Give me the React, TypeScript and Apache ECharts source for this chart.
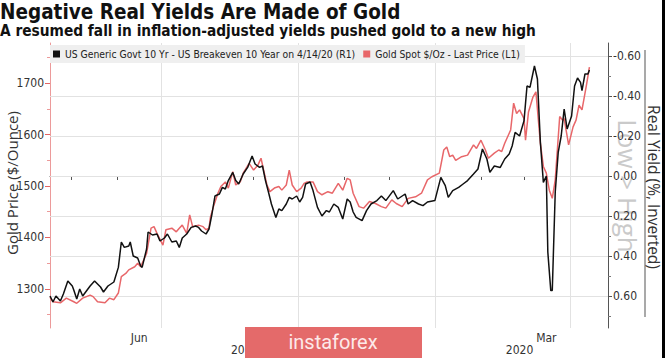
import React, { useEffect, useRef } from "react";
import * as echarts from "echarts";

const titleText = "Negative Real Yields Are Made of Gold";
const subtitleText = "A resumed fall in inflation-adjusted yields pushed gold to a new high";
const yieldName = "US Generic Govt 10 Yr - US Breakeven 10 Year on 4/14/20 (R1)";
const goldName = "Gold Spot $/Oz - Last Price (L1)";

const yieldDates = [
  "2019-04-17","2019-04-19","2019-04-21","2019-04-24","2019-04-26","2019-04-29","2019-05-02","2019-05-03","2019-05-05","2019-05-07",
  "2019-05-09","2019-05-12","2019-05-14","2019-05-17","2019-05-21","2019-05-23","2019-05-26","2019-05-30","2019-06-02","2019-06-04",
  "2019-06-06","2019-06-09","2019-06-10","2019-06-12","2019-06-15","2019-06-17","2019-06-18","2019-06-21","2019-06-22","2019-06-25",
  "2019-06-28","2019-06-30","2019-07-03","2019-07-05","2019-07-08","2019-07-11","2019-07-13","2019-07-15","2019-07-18","2019-07-21",
  "2019-07-24","2019-07-26","2019-07-28","2019-07-31","2019-08-02","2019-08-04","2019-08-06","2019-08-09","2019-08-11","2019-08-13",
  "2019-08-15","2019-08-18","2019-08-20","2019-08-22","2019-08-25","2019-08-28","2019-08-31","2019-09-02","2019-09-05","2019-09-07",
  "2019-09-09","2019-09-11","2019-09-13","2019-09-16","2019-09-18","2019-09-20","2019-09-23","2019-09-25","2019-09-27","2019-09-30",
  "2019-10-02","2019-10-04","2019-10-06","2019-10-09","2019-10-11","2019-10-14","2019-10-17","2019-10-20","2019-10-22","2019-10-25",
  "2019-10-28","2019-10-31","2019-11-03","2019-11-05","2019-11-07","2019-11-09","2019-11-13","2019-11-16","2019-11-19","2019-11-23",
  "2019-11-26","2019-11-29","2019-12-04","2019-12-07","2019-12-12","2019-12-14","2019-12-17","2019-12-21","2019-12-24","2019-12-27",
  "2020-01-01","2020-01-05","2020-01-08","2020-01-10","2020-01-13","2020-01-17","2020-01-20","2020-01-23","2020-01-27","2020-01-30",
  "2020-02-02","2020-02-05","2020-02-07","2020-02-10","2020-02-14","2020-02-17","2020-02-20","2020-02-22","2020-02-24","2020-02-27",
  "2020-03-01","2020-03-03","2020-03-05","2020-03-08","2020-03-10","2020-03-12","2020-03-14","2020-03-16","2020-03-17","2020-03-19",
  "2020-03-20","2020-03-22","2020-03-24","2020-03-26","2020-03-28","2020-03-30","2020-04-02","2020-04-04","2020-04-06","2020-04-08",
  "2020-04-09","2020-04-11","2020-04-13","2020-04-14"
];
const yieldValues = [
  0.60,0.63,0.60,0.625,0.59,0.525,0.55,0.57,0.615,0.565,
  0.60,0.57,0.55,0.525,0.555,0.58,0.55,0.53,0.457,0.33,
  0.357,0.35,0.33,0.40,0.41,0.45,0.457,0.365,0.28,0.295,
  0.29,0.325,0.31,0.29,0.33,0.325,0.357,0.31,0.29,0.257,
  0.25,0.257,0.275,0.29,0.265,0.19,0.10,0.09,0.057,0.065,
  0.023,-0.018,0.023,0.04,-0.01,-0.043,-0.10,-0.06,-0.043,-0.05,
  0.023,0.08,0.14,0.207,0.165,0.173,0.14,0.107,0.115,0.10,
  0.13,0.107,0.04,0.03,0.073,0.157,0.20,0.173,0.18,0.14,
  0.157,0.215,0.115,0.13,0.18,0.207,0.223,0.173,0.14,0.123,
  0.10,0.123,0.073,0.115,0.09,0.14,0.123,0.14,0.148,0.13,
  0.123,0.007,0.048,0.107,0.073,0.057,0.04,0.023,-0.01,-0.035,
  -0.135,-0.085,-0.018,-0.05,-0.043,-0.085,-0.11,-0.15,-0.218,-0.20,
  -0.277,-0.45,-0.443,-0.55,-0.485,-0.168,0.032,0.0,0.38,0.573,
  0.573,0.08,-0.118,-0.20,-0.335,-0.235,-0.30,-0.45,-0.49,-0.468,
  -0.427,-0.51,-0.51,-0.53
];

const goldDates = [
  "2019-04-17","2019-04-19","2019-04-24","2019-04-28","2019-05-03","2019-05-05","2019-05-09","2019-05-14","2019-05-16","2019-05-19",
  "2019-05-24","2019-05-27","2019-05-30","2019-06-02","2019-06-04","2019-06-07","2019-06-09","2019-06-13","2019-06-15","2019-06-17",
  "2019-06-21","2019-06-24","2019-06-26","2019-06-28","2019-07-02","2019-07-04","2019-07-08","2019-07-11","2019-07-13","2019-07-15",
  "2019-07-18","2019-07-20","2019-07-22","2019-07-26","2019-07-29","2019-07-31","2019-08-02","2019-08-03","2019-08-05","2019-08-08",
  "2019-08-10","2019-08-13","2019-08-15","2019-08-18","2019-08-20","2019-08-23","2019-08-25","2019-08-29","2019-09-01","2019-09-04",
  "2019-09-06","2019-09-08","2019-09-10","2019-09-12","2019-09-15","2019-09-18","2019-09-20","2019-09-23","2019-09-25","2019-09-27",
  "2019-09-30","2019-10-03","2019-10-05","2019-10-07","2019-10-11","2019-10-14","2019-10-17","2019-10-21","2019-10-24","2019-10-28",
  "2019-10-31","2019-11-03","2019-11-05","2019-11-07","2019-11-11","2019-11-14","2019-11-18","2019-11-22","2019-11-26","2019-11-29",
  "2019-12-03","2019-12-06","2019-12-10","2019-12-14","2019-12-19","2019-12-23","2019-12-27","2019-12-30","2020-01-04","2020-01-07",
  "2020-01-09","2020-01-11","2020-01-13","2020-01-15","2020-01-19","2020-01-23","2020-01-27","2020-01-29","2020-02-01","2020-02-04",
  "2020-02-06","2020-02-10","2020-02-13","2020-02-15","2020-02-17","2020-02-21","2020-02-23","2020-02-25","2020-02-27","2020-03-01",
  "2020-03-02","2020-03-04","2020-03-07","2020-03-09","2020-03-12","2020-03-14","2020-03-16","2020-03-18","2020-03-20","2020-03-22",
  "2020-03-25","2020-03-27","2020-03-28","2020-03-31","2020-04-03","2020-04-05","2020-04-07","2020-04-09","2020-04-12","2020-04-14"
];
const goldValues = [
  1284,1275,1273,1282,1275,1272,1282,1288,1285,1275,
  1273,1282,1279,1292,1324,1330,1337,1343,1350,1343,
  1369,1418,1421,1408,1385,1415,1418,1411,1418,1424,
  1408,1444,1421,1424,1421,1415,1418,1440,1460,1486,
  1499,1508,1496,1528,1502,1508,1525,1544,1531,1541,
  1554,1528,1502,1489,1496,1499,1492,1502,1531,1502,
  1489,1496,1505,1508,1508,1489,1483,1489,1486,1505,
  1492,1515,1512,1486,1460,1457,1470,1466,1460,1457,
  1473,1466,1460,1476,1479,1486,1512,1518,1525,1570,
  1576,1557,1560,1550,1557,1560,1580,1573,1589,1570,
  1554,1564,1570,1567,1583,1609,1661,1641,1648,1631,
  1589,1644,1673,1683,1583,1538,1525,1492,1476,1512,
  1635,1628,1631,1580,1615,1628,1657,1648,1696,1731
];

const monthTickDates = [
  "2019-05-01","2019-06-01","2019-07-01","2019-08-01","2019-09-01","2019-10-01","2019-11-01","2019-12-01",
  "2020-01-01","2020-02-01","2020-03-01","2020-04-01"
];
const monthLabelDates = ["2019-06-16", "2020-03-16"];
const yearLabelDates = ["2019-08-26", "2020-02-27"];
const yearDividerDates = ["2020-01-01"];
const quarterLineDates = ["2019-07-01", "2019-10-01", "2020-01-01", "2020-04-01"];
const axisStartDate = "2019-04-17";
const axisEndDate = "2020-04-26";

const goldTicks = [1300, 1400, 1500, 1600, 1700];
const goldMinorTicks = [1250, 1350, 1450, 1550, 1650, 1750];
const yieldTicks = [-0.6, -0.4, -0.2, 0, 0.2, 0.4, 0.6];
const yieldMinorTicks = [-0.5, -0.3, -0.1, 0.1, 0.3, 0.5, 0.7];

const MONTHS = ["Jan","Feb","Mar","Apr","May","Jun","Jul","Aug","Sep","Oct","Nov","Dec"];

const toTs = (s: string) => {
  const [y, m, d] = s.split("-").map(Number);
  return new Date(y, m - 1, d).getTime();
};

export default function App() {
  const ref = useRef<HTMLDivElement>(null);
  useEffect(() => {
    document.body.style.margin = "0";
    const chart = echarts.init(ref.current!, null, { renderer: "svg" });
    const cond = '"DejaVu Sans Condensed", "DejaVu Sans", sans-serif';
    const xMin = toTs(axisStartDate);
    const xMax = toTs(axisEndDate) + 12 * 3600 * 1000;
    const labelStyle = { color: "#333", fontSize: 12, fontFamily: cond };

    chart.setOption({
      animation: false,
      backgroundColor: "#fff",
      grid: { left: 50, right: 57, top: 43, bottom: 30, containLabel: false },
      legend: {
        data: [yieldName, goldName],
        left: 50,
        top: 45,
        icon: "rect",
        itemWidth: 7,
        itemHeight: 7,
        itemGap: 8,
        padding: [4, 5, 4, 3],
        backgroundColor: "#efefef",
        selectedMode: false,
        textStyle: { fontSize: 10.3, color: "#222", fontFamily: cond },
      },
      xAxis: [
        {
          type: "value",
          min: xMin,
          max: xMax,
          position: "bottom",
          axisLine: { lineStyle: { color: "#555", width: 1 } },
          axisTick: { customValues: monthTickDates.map(toTs), length: 4, lineStyle: { color: "#555" } },
          axisLabel: {
            customValues: monthLabelDates.map(toTs),
            formatter: (v: number) => MONTHS[new Date(v).getMonth()],
            margin: 4,
            ...labelStyle,
          },
          splitLine: { show: false },
        },
        {
          type: "value",
          min: xMin,
          max: xMax,
          position: "bottom",
          axisLine: { show: false },
          axisTick: { customValues: yearDividerDates.map(toTs), length: 30, lineStyle: { color: "#aaa" } },
          axisLabel: {
            customValues: yearLabelDates.map(toTs),
            formatter: (v: number) => String(new Date(v).getFullYear()),
            margin: 16,
            ...labelStyle,
          },
          splitLine: { show: false },
        },
      ],
      yAxis: [
        {
          type: "value",
          position: "left",
          min: 1224,
          max: 1778,
          axisLine: { show: true, lineStyle: { color: "#ec9a9a" } },
          axisTick: { show: true, customValues: goldTicks, length: 5, lineStyle: { color: "#e26565" } },
          axisLabel: { customValues: goldTicks, formatter: (v: number) => String(v), margin: 6, ...labelStyle },
          splitLine: { show: false },
        },
        {
          type: "value",
          position: "right",
          inverse: true,
          min: -0.665,
          max: 0.76,
          axisLine: { show: true, lineStyle: { color: "#555" } },
          axisTick: { show: true, customValues: yieldTicks, length: 4, lineStyle: { color: "#555" } },
          axisLabel: {
            customValues: yieldTicks,
            formatter: (v: number) => (v < 0 ? "-" : "") + Math.abs(v).toFixed(2),
            margin: 5,
            ...labelStyle,
          },
          splitLine: { show: false },
        },
        {
          type: "value",
          position: "left",
          min: 1224,
          max: 1778,
          axisLine: { show: false },
          axisTick: { show: true, customValues: goldMinorTicks, length: 3, lineStyle: { color: "#ec9a9a" } },
          axisLabel: { show: false },
          splitLine: { show: false },
        },
        {
          type: "value",
          position: "right",
          inverse: true,
          min: -0.665,
          max: 0.76,
          axisLine: { show: false },
          axisTick: { show: true, customValues: yieldMinorTicks, length: 3, lineStyle: { color: "#777" } },
          axisLabel: { show: false },
          splitLine: { show: false },
        },
      ],
      series: [
        {
          name: goldName,
          type: "line",
          xAxisIndex: 0,
          yAxisIndex: 0,
          data: goldDates.map((d, i) => [toTs(d), goldValues[i]]),
          showSymbol: false,
          symbol: "none",
          lineStyle: { color: "#e8676a", width: 1.5 },
          itemStyle: { color: "#e8676a" },
          z: 2,
        },
        {
          name: yieldName,
          type: "line",
          xAxisIndex: 0,
          yAxisIndex: 1,
          data: yieldDates.map((d, i) => [toTs(d), yieldValues[i]]),
          showSymbol: false,
          symbol: "none",
          lineStyle: { color: "#111", width: 1.5 },
          itemStyle: { color: "#111" },
          z: 3,
          markLine: {
            silent: true,
            z: 1,
            symbol: ["none", "none"],
            label: { show: false },
            emphasis: { disabled: true },
            lineStyle: { color: "#e2e2e2", width: 1, type: "solid" },
            data: [
              ...yieldTicks.map((v) => ({ yAxis: v })),
              ...quarterLineDates.map((d) => ({ xAxis: toTs(d) })),
            ],
          },
        },
      ],
      graphic: [
        {
          type: "text",
          x: 0,
          y: 1,
          style: { text: titleText, fontSize: 20.5, fontWeight: "bold", fontFamily: cond, fill: "#111" },
        },
        {
          type: "text",
          x: 0,
          y: 23,
          style: { text: subtitleText, fontSize: 15.3, fontWeight: "bold", fontFamily: cond, fill: "#111" },
        },
        {
          type: "text",
          x: 12,
          y: 183,
          rotation: Math.PI / 2,
          style: {
            text: "Gold Price ($/Ounce)",
            fontSize: 15,
            fontFamily: '"Open Sans", sans-serif',
            fill: "#333",
            textAlign: "center",
            textVerticalAlign: "middle",
          },
        },
        {
          type: "text",
          x: 628,
          y: 186,
          rotation: -Math.PI / 2,
          z: -1,
          style: {
            text: "Low > High",
            fontSize: 26,
            fontFamily: '"Open Sans", sans-serif',
            fill: "#cacaca",
            textAlign: "center",
            textVerticalAlign: "middle",
          },
        },
        {
          type: "line",
          shape: { x1: 645, y1: 50, x2: 645, y2: 317 },
          style: { stroke: "#8d8d8d", lineWidth: 1.5 },
        },
        {
          type: "text",
          x: 654,
          y: 187,
          rotation: -Math.PI / 2,
          style: {
            text: "Real Yield (%, Inverted)",
            fontSize: 15.5,
            fontFamily: '"Open Sans", sans-serif',
            fill: "#333",
            textAlign: "center",
            textVerticalAlign: "middle",
          },
        },
        {
          type: "rect",
          shape: { x: 662, y: 0, width: 3, height: 358 },
          style: { fill: "#000" },
        },
        {
          type: "rect",
          z: 100,
          shape: { x: 245, y: 327, width: 177, height: 31 },
          style: { fill: "#e46a6a" },
        },
        {
          type: "text",
          z: 101,
          x: 333,
          y: 342,
          style: {
            text: "instaforex",
            fontSize: 20,
            fontFamily: "Roboto, sans-serif",
            fill: "#fde9e9",
            textAlign: "center",
            textVerticalAlign: "middle",
          },
        },
      ],
    });
    return () => chart.dispose();
  }, []);
  return <div ref={ref} style={{ position: "fixed", left: 0, top: 0, width: 665, height: 358 }} />;
}
